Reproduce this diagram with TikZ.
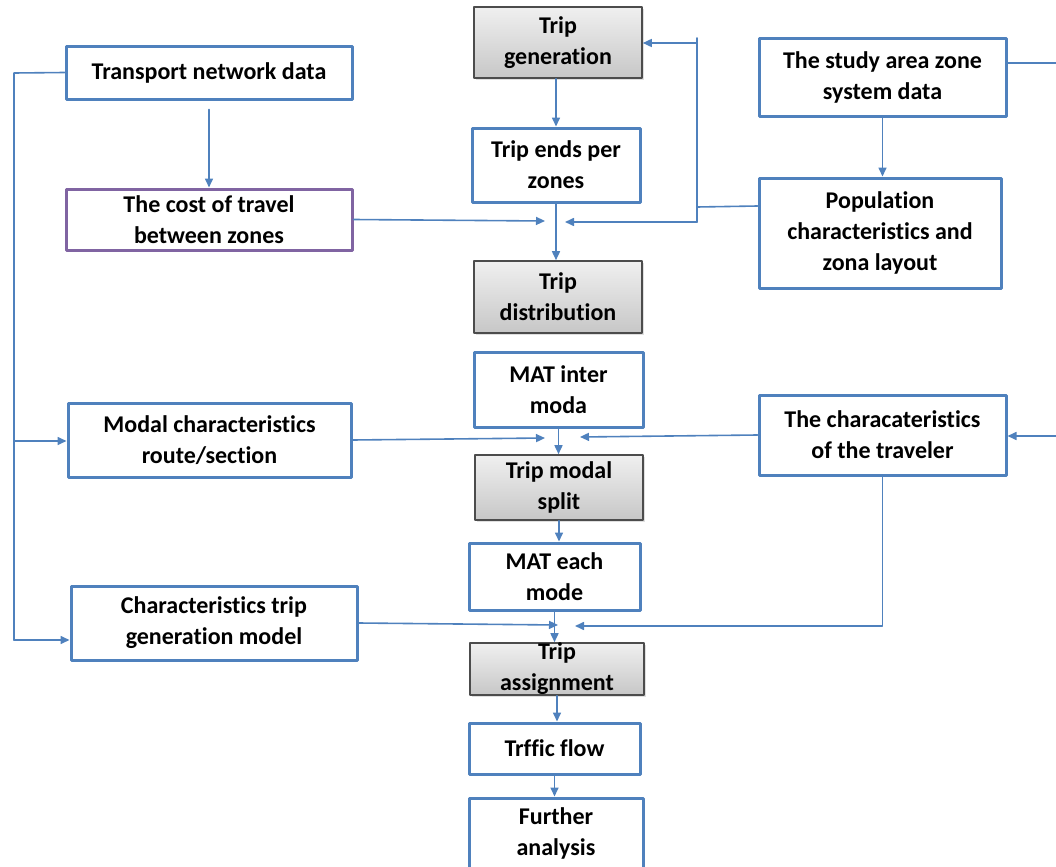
\documentclass[tikz,border=0pt]{standalone}
\usepackage{fontspec}
\setmainfont[Ligatures=NoCommon]{Carlito}
\usepackage{tikz}
\usetikzlibrary{arrows.meta,shadows}
\definecolor{boxblue}{HTML}{4F81BD}
\definecolor{boxpurple}{HTML}{8064A2}
\definecolor{linkblue}{HTML}{4F81BD}

\begin{document}
\begin{tikzpicture}[line cap=round,line join=round,x=0.5pt,y=-0.5pt,
  >={Triangle[length=4.5pt,width=4pt]},
  font=\bfseries\fontsize{12}{15.5}\selectfont,
  bluebox/.style={draw=boxblue,line width=1.5pt,fill=white,align=center,inner sep=0pt},
  purplebox/.style={bluebox,draw=boxpurple},
  graybox/.style={draw=black!70,line width=0.8pt,align=center,inner sep=0pt,
    top color=black!6,bottom color=black!22,
    drop shadow={opacity=0.25,shadow xshift=1.2pt,shadow yshift=-1.2pt}},
  link/.style={draw=linkblue,line width=0.8pt}]

\useasboundingbox (0,0) rectangle (1056,867);

% central chain
\node[graybox,minimum width=84pt,minimum height=35.5pt] (gen) at (558,42.5) {Trip\\generation};
\node[bluebox,minimum width=84pt,minimum height=37pt] (ends) at (556,165) {Trip ends per\\zones};
\node[graybox,minimum width=84pt,minimum height=36pt] (dist) at (558,297) {Trip\\distribution};
\node[bluebox,minimum width=84.5pt,minimum height=37.5pt] (matin) at (558.5,389.5) {MAT inter\\moda};
\node[graybox,minimum width=84pt,minimum height=32.5pt] (split) at (559,487.5) {Trip modal\\split};
\node[bluebox,minimum width=85.5pt,minimum height=33.5pt] (mateach) at (554.5,576.5) {MAT each\\mode};
\node[graybox,minimum width=87pt,minimum height=26pt] (assign) at (557,669) {Trip\\assignment};
\node[bluebox,minimum width=85.5pt,minimum height=25.5pt] (flow) at (554.5,748.5) {Trffic flow};
\node[bluebox,minimum width=87pt,minimum height=35pt] (further) at (556,833) {Further\\analysis};

% left column
\node[bluebox,minimum width=143pt,minimum height=26.5pt] (transport) at (209,72.5) {Transport network data};
\node[purplebox,minimum width=143pt,minimum height=30.5pt] (cost) at (209,219.5) {The cost of travel\\between zones};
\node[bluebox,minimum width=141.5pt,minimum height=37pt] (modal) at (209.5,440) {Modal characteristics\\route/section};
\node[bluebox,minimum width=143pt,minimum height=37pt] (chargen) at (214,623) {Characteristics trip\\generation model};

% right column
\node[bluebox,minimum width=123.5pt,minimum height=39pt] (study) at (882.5,77) {The study area zone\\system data};
\node[bluebox,minimum width=121pt,minimum height=55pt] (popul) at (880,233) {Population\\characteristics and\\zona layout};
\node[bluebox,minimum width=123.5pt,minimum height=40pt] (traveler) at (882.5,435) {The characateristics\\of the traveler};

% junction points
\coordinate (ltop) at (14,73);
\coordinate (lmid) at (14,441);
\coordinate (lbot) at (14,640);
\coordinate (rtop) at (697,38);
\coordinate (rgen) at (697,43);
\coordinate (rbot) at (697,222);
\coordinate (costin) at (545,221);
\coordinate (popin) at (565,222);
\coordinate (modalin) at (545,438);
\coordinate (travin) at (580,437);
\coordinate (genin) at (558,625);
\coordinate (travdown) at (575,626);
\coordinate (redge) at (1056,63);
\coordinate (redge2) at (1056,436);

% left bus
\draw[link] (transport.west) -- (ltop) -- (lbot);
\draw[link,->] (lmid) -- (lmid -| modal.west);
\draw[link,->] (lbot) -- (lbot -| chargen.west);
\draw[link,->,shorten <=4.5pt] (transport.south) -- (cost.north);

% right bus
\draw[link] (rtop) -- (rbot);
\draw[link,->] (rgen) -- (rgen -| gen.east);
\draw[link] ([yshift=13.5pt]popul.west) -- (rgen |- 0,207);
\draw[link,->] (rbot) -- (popin);
\draw[link,->] (study.south) -- (study.south |- popul.north);
\draw[link] ([yshift=7pt]study.east) -- (redge);
\draw[link,->] (redge2) -- (redge2 -| traveler.east);

% central arrows
\draw[link,->] (ends.north |- gen.south) -- (ends.north);
\draw[link,->] (ends.south) -- (ends.south |- dist.north);
\draw[link,->] (matin.south) -- (matin.south |- split.north);
\draw[link,->] (split.south) -- (split.south |- mateach.north);
\draw[link,->] (mateach.south) -- (mateach.south |- assign.north);
\draw[link,->] (assign.south) -- (assign.south |- flow.north);
\draw[link,->] (flow.south) -- (flow.south |- further.north);

% side inputs
\draw[link,->] (cost.east) -- (costin);
\draw[link,->] (modal.east) -- (modalin);
\draw[link,->] (traveler.west) -- (travin);
\draw[link,->] (chargen.east) -- (genin);
\draw[link,->] (traveler.south) |- (travdown);

\end{tikzpicture}
\end{document}
